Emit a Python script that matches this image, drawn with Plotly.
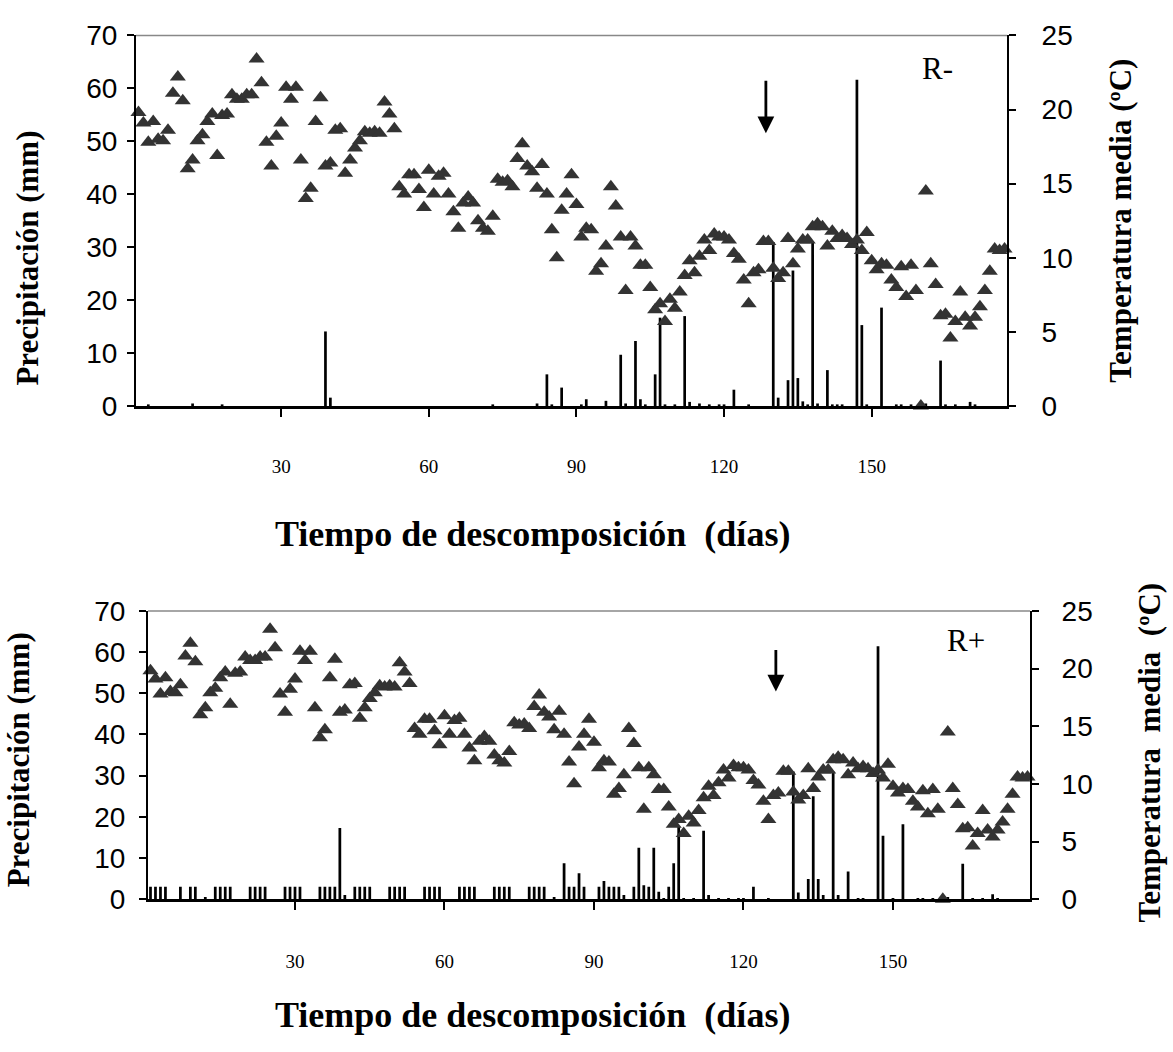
import plotly.graph_objects as go

W, H = 1173, 1052

# ---------------- data ----------------
days = list(range(1, 178))

temp_media = [
    19.8, 19.1, 17.8, 19.2, 18.0, 17.9, 18.6, 21.1, 22.2, 20.6,
    16.0, 16.6, 17.9, 18.3, 19.2, 19.7, 16.9, 19.6, 19.7, 21.0,
    20.7, 20.7, 21.0, 21.0, 23.4, 21.8, 17.8, 16.2, 18.2, 19.1,
    21.5, 20.7, 21.5, 16.6, 14.0, 14.7, 19.2, 20.8, 16.2, 16.4,
    18.6, 18.7, 15.7, 16.6, 17.4, 17.9, 18.5, 18.4, 18.5, 18.4,
    20.5, 19.7, 18.7, 14.8, 14.3, 15.6, 15.6, 14.6, 13.4, 15.9,
    14.3, 15.5, 15.7, 14.3, 13.1, 12.0, 13.7, 14.1, 13.7, 12.5,
    12.0, 11.8, 12.8, 15.3, 15.1, 15.2, 14.8, 16.7, 17.7, 16.2,
    15.8, 14.7, 16.3, 14.3, 11.9, 10.0, 13.2, 14.3, 15.6, 13.6,
    11.4, 12.0, 11.9, 9.1, 9.6, 10.8, 14.8, 13.5, 11.4, 7.8,
    11.4, 10.8, 9.5, 9.5, 8.0, 6.5, 6.9, 5.7, 7.2, 6.6,
    7.7, 8.8, 9.8, 9.0, 10.1, 11.2, 10.5, 11.6, 11.4, 11.4,
    11.2, 10.3, 9.9, 8.5, 6.9, 9.0, 9.2, 11.1, 11.1, 9.3,
    8.6, 9.0, 11.3, 9.6, 10.6, 11.2, 11.2, 12.1, 12.3, 12.1,
    10.8, 11.8, 11.3, 11.5, 11.3, 10.9, 11.2, 10.5, 11.7, 9.8,
    9.2, 9.6, 9.5, 8.5, 8.0, 9.4, 7.4, 9.5, 7.8, 0.0,
    14.5, 9.6, 8.2, 6.1, 6.2, 4.6, 5.7, 7.7, 6.0, 5.4,
    6.0, 6.7, 7.8, 9.1, 10.6, 10.5, 10.6,
]

# R- : precipitation (mm) on the days it was recorded
rminus_days = [3, 12, 18, 39, 40, 73, 82, 84, 85, 87, 91, 92, 96, 99, 100,
               102, 103, 104, 106, 107, 108, 110, 112, 113, 115, 117, 119, 120,
               122, 125, 130, 131, 133, 134, 135, 136, 137, 138, 139, 141, 142,
               143, 144, 147, 148, 149, 152, 155, 156, 158, 161, 164, 165, 167,
               170, 171]
rminus_mm = [0.3, 0.5, 0.3, 14.1, 1.6, 0.3, 0.5, 6.0, 0.3, 3.5, 0.3, 1.3, 1.0, 9.7, 0.5,
             12.3, 1.3, 0.3, 6.0, 16.7, 0.3, 0.3, 17.0, 0.8, 0.5, 0.3, 0.3, 0.3,
             3.1, 0.2, 31.0, 1.6, 4.9, 25.6, 5.3, 0.9, 0.3, 31.0, 0.5, 6.8, 0.3,
             0.3, 0.3, 61.6, 15.3, 0.3, 18.6, 0.3, 0.3, 0.3, 0.5, 8.6, 0.3, 0.3,
             0.8, 0.3]

# R+ : precipitation + irrigation (mm)
rplus_days = [1, 2, 3, 4, 7, 9, 10, 12,
              14, 15, 16, 17, 21, 22, 23, 24, 28, 29, 30, 31,
              35, 36, 37, 38, 39, 40, 42, 43, 44, 45, 49, 50, 51, 52,
              56, 57, 58, 59, 63, 64, 65, 66, 70, 71, 72, 73,
              77, 78, 79, 80, 82, 84, 85, 86, 87, 88,
              91, 92, 93, 94, 95, 96, 98, 99, 100, 101, 102, 103, 104,
              105, 106, 107, 108, 110, 112, 113, 115, 117, 119, 120, 122,
              125, 130, 131, 133, 134, 135, 136, 138, 139, 141, 143, 144,
              147, 148, 150, 152, 155, 156, 158, 161, 164, 166, 168, 170, 171]
rplus_mm = [3.0, 3.0, 3.0, 3.0, 3.0, 3.0, 3.0, 0.5,
            3.0, 3.0, 3.0, 3.0, 3.0, 3.0, 3.0, 3.0, 3.0, 3.0, 3.0, 3.0,
            3.0, 3.0, 3.0, 3.0, 17.3, 1.0, 3.0, 3.0, 3.0, 3.0, 3.0, 3.0, 3.0, 3.0,
            3.0, 3.0, 3.0, 3.0, 3.0, 3.0, 3.0, 3.0, 3.0, 3.0, 3.0, 3.0,
            3.0, 3.0, 3.0, 3.0, 0.5, 8.7, 3.0, 3.0, 6.3, 3.0,
            3.0, 4.4, 3.0, 3.0, 3.0, 1.0, 3.0, 12.5, 3.4, 3.0, 12.5, 1.8, 0.3,
            3.0, 8.7, 17.5, 0.3, 0.3, 16.6, 1.0, 0.3, 0.3, 0.3, 0.3, 3.0,
            0.3, 31.0, 1.6, 4.9, 25.0, 4.9, 1.0, 31.0, 1.0, 6.7, 0.3, 0.3,
            61.4, 15.4, 0.3, 18.2, 0.3, 0.3, 0.3, 0.5, 8.6, 0.3, 0.3, 1.2, 0.3]

x_tick_vals = [30, 60, 90, 120, 150]
x_tick_text = ["30", "60", "90", "120", "150"]
prec_ticks = [0, 10, 20, 30, 40, 50, 60, 70]
temp_ticks = [0, 5, 10, 15, 20, 25]

# ---------------- figure ----------------
TRI = "#333333"
BAR_W = 0.55
fig = go.Figure()

fig.add_trace(go.Bar(x=rminus_days, y=rminus_mm, width=BAR_W,
                     marker=dict(color="black", line=dict(width=0)),
                     xaxis="x", yaxis="y", showlegend=False))
fig.add_trace(go.Scatter(x=days, y=temp_media, mode="markers",
                         marker=dict(symbol="triangle-up", size=14, color=TRI),
                         xaxis="x", yaxis="y2", cliponaxis=False, showlegend=False))
fig.add_trace(go.Bar(x=rplus_days, y=rplus_mm, width=BAR_W,
                     marker=dict(color="black", line=dict(width=0)),
                     xaxis="x2", yaxis="y3", showlegend=False))
fig.add_trace(go.Scatter(x=days, y=temp_media, mode="markers",
                         marker=dict(symbol="triangle-up", size=14, color=TRI),
                         xaxis="x2", yaxis="y4", cliponaxis=False, showlegend=False))

sans = "Liberation Sans, Arial, sans-serif"
serif = "Liberation Serif, Times New Roman, serif"


def xax(domain, anchor, standoff):
    return dict(domain=domain, anchor=anchor, range=[0.5, 177.5],
                tickmode="array", tickvals=x_tick_vals, ticktext=x_tick_text,
                ticks="outside", ticklen=8, tickwidth=2, tickcolor="black",
                showline=True, linecolor="black", linewidth=2.5,
                showgrid=False, zeroline=False,
                tickfont=dict(family=serif, size=19, color="black"),
                ticklabelstandoff=standoff)


def yax(domain, anchor, rng, ticks, side="left", overlaying=None, standoff=6):
    d = dict(domain=domain, anchor=anchor, range=rng, side=side,
             tickmode="array", tickvals=ticks,
             ticks="outside", ticklen=7, tickwidth=2, tickcolor="black",
             showline=True, linecolor="black", linewidth=2,
             showgrid=False, zeroline=False,
             tickfont=dict(family=sans, size=28, color="black"),
             ticklabelstandoff=standoff)
    if overlaying:
        d["overlaying"] = overlaying
        d.pop("domain")
    return d


top_x = [136 / W, 1007 / W]
top_y = [1 - 403 / H, 1 - 21 / H]
bot_x = [148 / W, 1030 / W]
bot_y = [1 - 911 / H, 1 - 614 / H]

fig.update_layout(
    width=W, height=H, autosize=False,
    margin=dict(l=0, r=0, t=0, b=0),
    paper_bgcolor="white", plot_bgcolor="white",
    showlegend=False,
    xaxis=xax(top_x, "y", 33),
    yaxis=yax(top_y, "x", [0, 70], prec_ticks, standoff=4),
    yaxis2=yax(top_y, "x", [0, 25], temp_ticks, side="right", overlaying="y", standoff=20),
    xaxis2=xax(bot_x, "y3", 35),
    yaxis3=yax(bot_y, "x2", [0, 70], prec_ticks, standoff=8),
    yaxis4=yax(bot_y, "x2", [0, 25], temp_ticks, side="right", overlaying="y3", standoff=17),
)

# gray top border of each plot area
fig.add_shape(type="line", xref="x domain", yref="y domain", x0=0, x1=1, y0=1, y1=1,
              line=dict(color="#888888", width=1.5))
fig.add_shape(type="line", xref="x2 domain", yref="y3 domain", x0=0, x1=1, y0=1, y1=1,
              line=dict(color="#888888", width=1.5))

title_font = dict(family=serif, size=31, color="black")
xtitle_font = dict(family=serif, size=36, color="black")
ann = []
# axis titles
ann.append(dict(text="<b>Precipitación (mm)</b>", xref="paper", yref="paper",
                x=28 / W, y=1 - 251 / H, textangle=-90, showarrow=False, font=title_font,
                xanchor="center", yanchor="middle"))
ann.append(dict(text="<b>Temperatura media (ºC)</b>", xref="paper", yref="paper",
                x=1121 / W, y=1 - 212 / H, textangle=-90, showarrow=False, font=title_font,
                xanchor="center", yanchor="middle"))
ann.append(dict(text="<b>Tiempo de descomposición  (días)</b>", xref="paper", yref="paper",
                x=532 / W, y=1 - 535 / H, showarrow=False, font=xtitle_font,
                xanchor="center", yanchor="middle"))
ann.append(dict(text="<b>Precipitación (mm)</b>", xref="paper", yref="paper",
                x=18 / W, y=1 - 768 / H, textangle=-90, showarrow=False, font=title_font,
                xanchor="center", yanchor="middle"))
ann.append(dict(text="<b>Temperatura  media  (ºC)</b>", xref="paper", yref="paper",
                x=1150 / W, y=1 - 760 / H, textangle=-90, showarrow=False, font=title_font,
                xanchor="center", yanchor="middle"))
ann.append(dict(text="<b>Tiempo de descomposición  (días)</b>", xref="paper", yref="paper",
                x=532 / W, y=1 - 1030 / H, showarrow=False, font=xtitle_font,
                xanchor="center", yanchor="middle"))
# panel labels
ann.append(dict(text="R-", xref="paper", yref="paper", x=937 / W, y=1 - 55 / H,
                showarrow=False, font=dict(family=serif, size=31, color="black"),
                xanchor="center", yanchor="middle"))
ann.append(dict(text="R+", xref="paper", yref="paper", x=966 / W, y=1 - 645 / H,
                showarrow=False, font=dict(family=serif, size=31, color="black"),
                xanchor="center", yanchor="middle"))
# arrows
ann.append(dict(text="", xref="x", yref="y", x=128.5, y=51.5, ax=0, ay=-54,
                showarrow=True, arrowhead=2, arrowsize=1.2, arrowwidth=2.8,
                arrowcolor="black"))
ann.append(dict(text="", xref="x2", yref="y3", x=126.5, y=50.4, ax=0, ay=-43,
                showarrow=True, arrowhead=2, arrowsize=1.2, arrowwidth=2.8,
                arrowcolor="black"))
fig.update_layout(annotations=ann)

fig.write_html("out.html")
